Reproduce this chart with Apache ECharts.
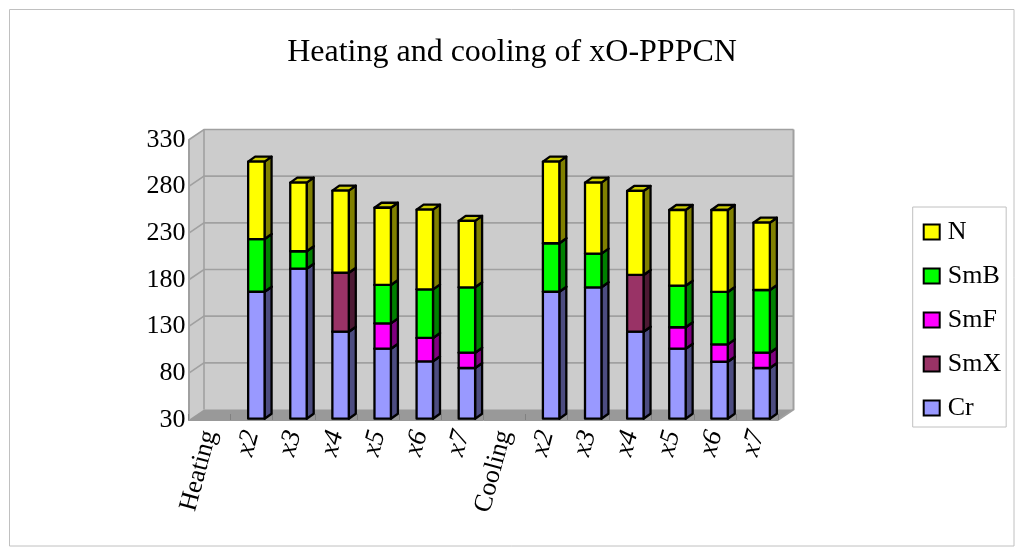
<!DOCTYPE html>
<html><head><meta charset="utf-8">
<style>html,body{margin:0;padding:0;background:#fff}#c{width:1024px;height:557px}</style>
<script src="https://cdn.jsdelivr.net/npm/echarts@6/dist/echarts.min.js"></script>
</head><body><div id="c"></div>
<script>
const categories = ['Heating','x2','x3','x4','x5','x6','x7','Cooling','x2','x3','x4','x5','x6','x7'];
const yTicks = [30,80,130,180,230,280,330];
// Upper temperature of each phase; null where the phase does not occur
const Cr  = [null,166,190.7,123.2,105,91.5,84.3, null,166,170.8,123.2,105,91,84.3];
const SmX = [null,null,null,186.4,null,null,null, null,null,null,184,null,null,null];
const SmF = [null,null,null,null,132.2,116.5,100.7, null,null,null,null,128,109.7,100.7];
const SmB = [null,222.5,209.4,null,173.3,168.6,170.8, null,218,206.8,null,172.5,165.8,167.9];
const N   = [null,305.4,283,274.3,256,254,242, null,305.4,283,274,253.6,253.6,240];

const FONT = '"Liberation Serif","Times New Roman",serif';
const layers = [
  {name:'Cr',  data:Cr,  front:'#9999FF', side:'#4C4C80', top:'#7A7ACC'},
  {name:'SmX', data:SmX, front:'#993366', side:'#4C1933', top:'#7A2952'},
  {name:'SmF', data:SmF, front:'#FF00FF', side:'#800080', top:'#CC00CC'},
  {name:'SmB', data:SmB, front:'#00FF00', side:'#008000', top:'#00CC00'},
  {name:'N',   data:N,   front:'#FFFF00', side:'#808000', top:'#CCCC00'}
];
const WALL = {dx:15.5, dy:-10.5};   // depth of the plot box
const BAR  = {shift:4.7, lift:-1.3, dx:7, dy:-5, ratio:0.39};

function baseOf(layerIdx, cat){
  for(let i=layerIdx-1;i>=0;i--){ const v=layers[i].data[cat]; if(v!=null) return v; }
  return yTicks[0];
}
function renderBar(layerIdx){
  return function(params, api){
    const cat = api.value(0), v = api.value(1);
    if(v==null || isNaN(v)) return {type:'group',children:[]};
    const L = layers[layerIdx];
    const t = api.coord([cat, v]), b = api.coord([cat, baseOf(layerIdx,cat)]);
    const w = api.size([1,0])[0]*BAR.ratio;
    const x0 = t[0]+BAR.shift-w/2, x1 = x0+w, yt=t[1]+BAR.lift, yb=b[1]+BAR.lift;
    const ln = {stroke:'#000', lineWidth:2.3, lineJoin:'round'};
    const poly = (pts,fill)=>({type:'polygon',shape:{points:pts},style:Object.assign({fill},ln)});
    return {type:'group',children:[
      poly([[x1,yt],[x1+BAR.dx,yt+BAR.dy],[x1+BAR.dx,yb+BAR.dy],[x1,yb]],L.side),
      poly([[x0,yt],[x0+BAR.dx,yt+BAR.dy],[x1+BAR.dx,yt+BAR.dy],[x1,yt]],L.top),
      poly([[x0,yt],[x1,yt],[x1,yb],[x0,yb]],L.front)
    ]};
  };
}
function renderWall(params, api){
  const v = api.value(0);
  const cs = params.coordSys;
  const lx = cs.x, rx = cs.x+cs.width;
  const y = api.coord([0,v])[1];
  const yLow = api.coord([0,yTicks[0]])[1], yHigh = api.coord([0,yTicks[yTicks.length-1]])[1];
  const kids = [];
  const gl = {stroke:'#A0A0A0', lineWidth:1.6};
  if(params.dataIndex===0){
    kids.push({type:'polygon',shape:{points:[[lx,yLow],[lx,yHigh],[lx+WALL.dx,yHigh+WALL.dy],[rx+WALL.dx,yHigh+WALL.dy],[rx+WALL.dx,yLow+WALL.dy],[rx,yLow]]},style:{fill:'#CCCCCC',stroke:null}});
    kids.push({type:'polygon',shape:{points:[[lx,yLow],[lx+WALL.dx,yLow+WALL.dy],[rx+WALL.dx,yLow+WALL.dy],[rx,yLow]]},style:{fill:'#999999',stroke:null}});
    kids.push({type:'polyline',shape:{points:[[lx+WALL.dx,yHigh+WALL.dy],[lx+WALL.dx,yLow+WALL.dy]]},style:{stroke:'#A0A0A0',lineWidth:1.6,fill:null}});
    kids.push({type:'polyline',shape:{points:[[rx+WALL.dx,yHigh+WALL.dy],[rx+WALL.dx,yLow+WALL.dy],[rx,yLow]]},style:{stroke:'#A0A0A0',lineWidth:2,fill:null}});
  } else {
    kids.push({type:'polyline',shape:{points:[[lx,y],[lx+WALL.dx,y+WALL.dy],[rx+WALL.dx,y+WALL.dy]]},style:Object.assign({fill:null},gl)});
  }
  return {type:'group',children:kids};
}

const series = [{
  type:'custom', name:'wall', coordinateSystem:'cartesian2d', z:1, silent:true,
  renderItem:renderWall, data:yTicks.map(v=>[v]), encode:{y:0}, clip:false
}].concat(layers.map((L,i)=>({
  type:'custom', name:L.name, coordinateSystem:'cartesian2d', z:4+i, clip:false,
  renderItem:renderBar(i), itemStyle:{color:L.front},
  encode:{x:0,y:1},
  data:L.data.map((v,c)=>[c,v])
})));

const chart = echarts.init(document.getElementById('c'),null,{renderer:'canvas'});
chart.setOption({
  animation:false,
  backgroundColor:'#fff',
  textStyle:{fontFamily:FONT},
  title:{text:'Heating and cooling of xO-PPPCN',left:'center',top:32,
    textStyle:{fontFamily:FONT,fontSize:32,fontWeight:'normal',color:'#000'}},
  graphic:[{type:'rect',z:0,shape:{x:9.5,y:9.5,width:1004.5,height:536.5},style:{fill:null,stroke:'#C0C0C0',lineWidth:1}}],
  grid:{left:188.5,top:140,width:589.5,height:280,containLabel:false},
  xAxis:{type:'category',data:categories,z:3,
    axisLine:{show:true,lineStyle:{color:'#999999',width:1}},
    axisTick:{show:true,inside:true,length:6,lineStyle:{color:'#808080',width:1}},
    axisLabel:{interval:0,rotate:75,margin:11,fontSize:27,fontFamily:FONT,color:'#000',
      formatter:v=>/^x\d/.test(v)?'{i|'+v+'}':'{n|'+v+'}',
      rich:{i:{fontStyle:'italic',fontSize:27,fontFamily:FONT,color:'#000'},
            n:{fontStyle:'normal',fontSize:26,fontFamily:FONT,color:'#000'}}},
    splitLine:{show:false}},
  yAxis:{type:'value',min:yTicks[0],max:yTicks[yTicks.length-1],z:3,
    axisLine:{show:true,lineStyle:{color:'#A0A0A0',width:2}},
    axisTick:{show:true,length:0,customValues:yTicks},
    axisLabel:{customValues:yTicks,margin:3,fontSize:26,fontFamily:FONT,color:'#000',padding:[3,0,0,0]},
    splitLine:{show:false}},
  legend:{orient:'vertical',left:912.7,top:207,
    data:['N','SmB','SmF','SmX','Cr'],
    icon:'rect',itemWidth:16,itemHeight:15,itemGap:18,
    padding:[12,5,6,10],borderColor:'#C0C0C0',borderWidth:1,backgroundColor:'#fff',
    itemStyle:{borderColor:'#000',borderWidth:2},
    textStyle:{fontFamily:FONT,fontSize:26,color:'#000',padding:[0,0,0,3]},
    selectedMode:false},
  tooltip:{show:false},
  series
});
</script></body></html>
